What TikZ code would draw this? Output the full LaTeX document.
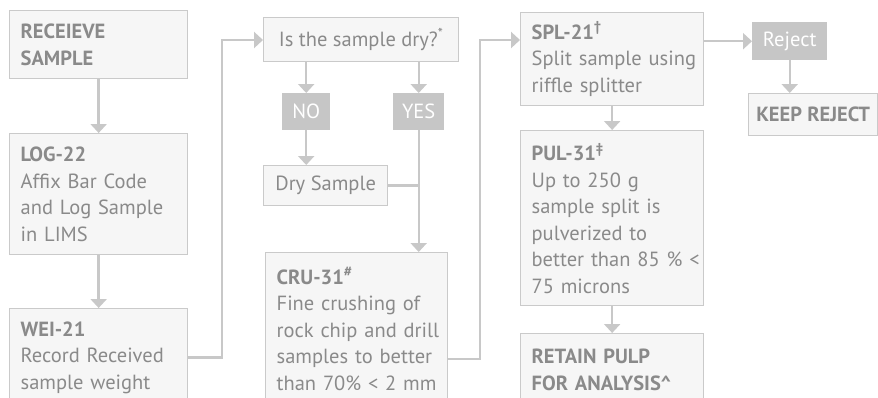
\documentclass[tikz,border=0pt]{standalone}
\usepackage{fontspec}
\setmainfont{PT Sans}
\usetikzlibrary{arrows.meta,calc}
\definecolor{bordc}{HTML}{CACACA}
\definecolor{fillc}{HTML}{F6F6F6}
\definecolor{txtc}{HTML}{8A8A8A}
\definecolor{solidc}{HTML}{C6C6C6}
\definecolor{arrc}{HTML}{C8C8C8}
\newcommand\bl[1]{\mbox{#1}}
\begin{document}
\begin{tikzpicture}[x=1pt,y=-1pt,
  basefont/.style={font=\fontsize{20.5}{26.5}\selectfont},
  box/.style={basefont, draw=bordc, line width=1.3pt, fill=fillc, text=txtc,
    inner xsep=11pt, inner ysep=0pt, align=left, anchor=north west},
  cbox/.style={box, align=center, inner xsep=2pt},
  sbox/.style={basefont, fill=solidc, text=white, inner sep=0pt, anchor=north west, align=center},
  arr/.style={draw=arrc, line width=2.4pt, -{Triangle[width=16pt,length=9pt]}},
  conn/.style={draw=arrc, line width=2.4pt}
]
\useasboundingbox (0,0) rectangle (878,397);
\clip (0,0) rectangle (878,397);
\fill[white] (0,0) rectangle (878,397);

% column 1
\node[box, minimum width=178pt, minimum height=68pt, text width=156pt] (rec) at (9,10)
  {\textbf{RECEIEVE}\\\textbf{SAMPLE}};
\node[box, minimum width=178pt, minimum height=121pt, text width=156pt] (log) at (9,133)
  {\textbf{LOG-22}\\\bl{Affix Bar Code}\\\bl{and Log Sample}\\\bl{in LIMS}};
\node[box, minimum width=178pt, minimum height=98pt, text width=156pt] (wei) at (9,308)
  {\textbf{WEI-21}\\\bl{Record Received}\\\bl{sample weight}};

% column 2
\node[cbox, minimum width=195pt, minimum height=44pt] (dry) at (263,17)
  {Is the sample dry?\textsuperscript{*}};
\node[sbox, minimum width=48pt, minimum height=37pt] (no) at (282,93) {NO};
\node[sbox, minimum width=51pt, minimum height=37pt] (yes) at (393,93) {YES};
\node[cbox, minimum width=124pt, minimum height=40pt] (drys) at (263,165) {Dry Sample};
\node[box, minimum width=182pt, minimum height=153pt, text width=160pt] (cru) at (265,252)
  {\textbf{CRU-31\textsuperscript{\#}}\\\bl{Fine crushing of}\\\bl{rock chip and drill}\\\bl{samples to better}\\\bl{than 70\% < 2 mm}};

% column 3
\node[box, minimum width=183pt, minimum height=93pt, text width=161pt] (spl) at (520,12)
  {\textbf{SPL-21\textsuperscript{†}}\\\bl{Split sample using}\\\bl{riffle splitter}};
\node[box, minimum width=183pt, minimum height=175pt, text width=161pt] (pul) at (520,130)
  {\textbf{PUL-31\textsuperscript{‡}}\\\bl{Up to 250 g}\\\bl{sample split is}\\\bl{pulverized to}\\\bl{better than 85 \% <}\\\bl{75 microns}};
\node[box, minimum width=183pt, minimum height=72pt, text width=161pt] (ret) at (520,333)
  {\textbf{RETAIN PULP}\\\textbf{FOR ANALYSIS\textasciicircum}};

% column 4
\node[sbox, minimum width=75pt, minimum height=38pt] (rej) at (752,22) {Reject};
\node[cbox, minimum width=129pt, minimum height=42pt] (keep) at (748,93) {\textbf{KEEP REJECT}};

% junctions
\coordinate (j1) at (222,40);
\coordinate (j2) at (480,40);
\coordinate (c2) at (447,359);

% connectors
\draw[arr] (rec) -- (log);
\draw[arr] (log) -- (wei);
\draw[arr] (wei.east) -| (j1) -- (j1 -| dry.west);
\draw[arr] (dry.south -| no.north) -- (no.north);
\draw[arr] (dry.south -| yes.north) -- (yes.north);
\draw[arr] (no.south) -- (no.south |- drys.north);
\draw[conn] (drys.east) -- (yes.south |- drys.east);
\draw[arr] (yes.south) -- (yes.south |- cru.north);
\draw[arr] (c2) -| (j2) -- (j2 -| spl.west);
\draw[arr] (spl.south) -- (pul.north);
\draw[arr] (pul.south) -- (ret.north);
\draw[arr] (rej.west -| spl.east) -- (rej.west);
\draw[arr] (rej.south) -- (rej.south |- keep.north);
\end{tikzpicture}
\end{document}
